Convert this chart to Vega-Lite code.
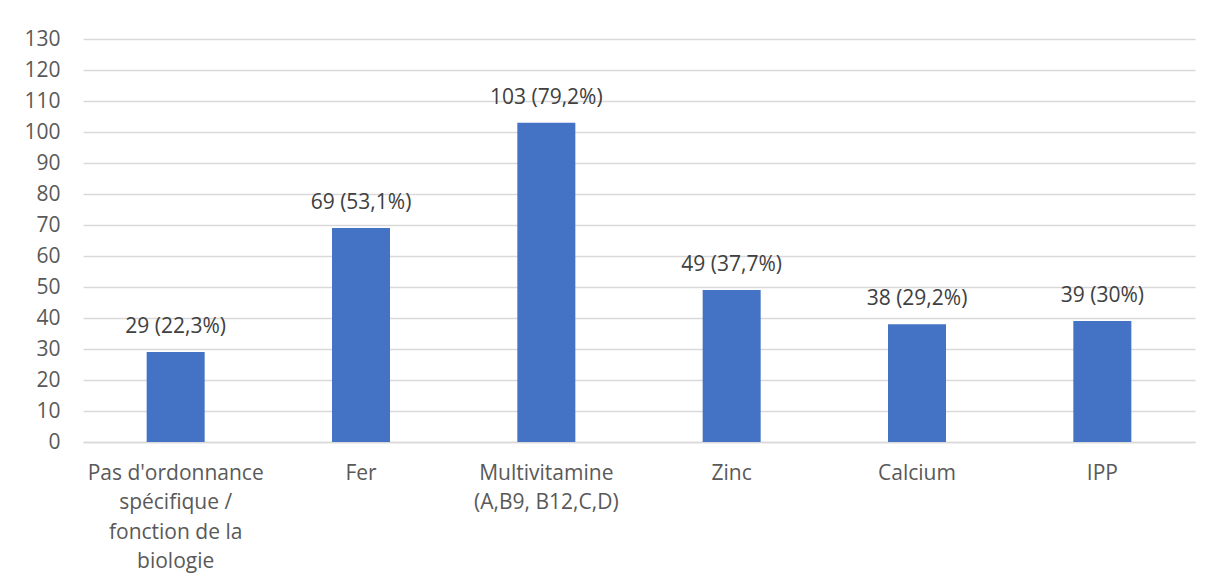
{
  "$schema": "https://vega.github.io/schema/vega-lite/v6.json",
  "width": 1112,
  "height": 403,
  "autosize": {"type": "none"},
  "padding": {"left": 83, "top": 39, "right": 23, "bottom": 145},
  "background": "white",
  "data": {
    "values": [
      {"categorie": "Pas d'ordonnance|spécifique /|fonction de la|biologie", "n": 29, "etiquette": "29 (22,3%)", "ordre": 1},
      {"categorie": "Fer", "n": 69, "etiquette": "69 (53,1%)", "ordre": 2},
      {"categorie": "Multivitamine|(A,B9, B12,C,D)", "n": 103, "etiquette": "103 (79,2%)", "ordre": 3},
      {"categorie": "Zinc", "n": 49, "etiquette": "49 (37,7%)", "ordre": 4},
      {"categorie": "Calcium", "n": 38, "etiquette": "38 (29,2%)", "ordre": 5},
      {"categorie": "IPP", "n": 39, "etiquette": "39 (30%)", "ordre": 6}
    ]
  },
  "encoding": {
    "x": {
      "field": "categorie",
      "type": "nominal",
      "sort": {"field": "ordre"},
      "scale": {"paddingInner": 0.687, "paddingOuter": 0.3435},
      "axis": {
        "title": null,
        "labelAngle": 0,
        "labelExpr": "split(datum.label, '|')",
        "labelLineHeight": 29.5,
        "labelPadding": 20,
        "labelFont": "Open Sans",
        "labelFontSize": 21,
        "labelColor": "#595959",
        "labelLimit": 300,
        "ticks": false,
        "domainColor": "#d9d9d9",
        "domainWidth": 1.5
      }
    },
    "y": {
      "field": "n",
      "type": "quantitative",
      "scale": {"domain": [0, 130], "nice": false},
      "axis": {
        "title": null,
        "values": [0, 10, 20, 30, 40, 50, 60, 70, 80, 90, 100, 110, 120, 130],
        "labelFont": "Open Sans",
        "labelFontSize": 21,
        "labelColor": "#595959",
        "labelPadding": 23,
        "ticks": false,
        "domain": false,
        "grid": true,
        "gridColor": "#d9d9d9",
        "gridWidth": 1.5
      }
    }
  },
  "layer": [
    {"mark": {"type": "bar", "color": "#4472C4"}},
    {
      "mark": {"type": "text", "baseline": "middle", "dy": -25, "font": "Open Sans", "fontSize": 21, "color": "#404040"},
      "encoding": {"text": {"field": "etiquette"}}
    }
  ],
  "config": {"view": {"stroke": null}}
}
